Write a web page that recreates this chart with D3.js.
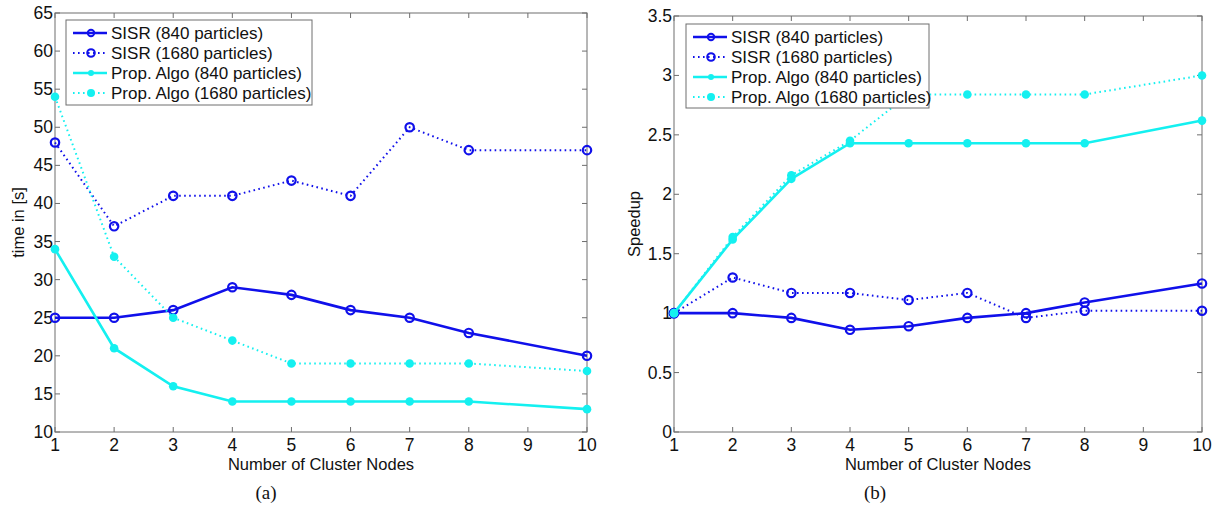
<!DOCTYPE html>
<html><head><meta charset="utf-8">
<script src="https://cdn.jsdelivr.net/npm/d3@7"></script>
<style>body{margin:0;background:#fff}svg{display:block}</style>
</head><body>
<svg id="c" width="1217" height="506"></svg>
<script>
const nodes = [1,2,3,4,5,6,7,8,10];
const xTicks = [1,2,3,4,5,6,7,8,9,10];
// (a) time in seconds
const timeSISR840 = [25,25,26,29,28,26,25,23,20];
const timeSISR1680 = [48,37,41,41,43,41,50,47,47];
const timeProp840 = [34,21,16,14,14,14,14,14,13];
const timeProp1680 = [54,33,25,22,19,19,19,19,18];
const timeTicks = [10,15,20,25,30,35,40,45,50,55,60,65];
// (b) speedup
const spSISR840 = [1,1,0.96,0.86,0.89,0.96,1,1.09,1.25];
const spSISR1680 = [1,1.3,1.17,1.17,1.11,1.17,0.96,1.02,1.02];
const spProp840 = [1,1.62,2.13,2.43,2.43,2.43,2.43,2.43,2.62];
const spProp1680 = [1,1.64,2.16,2.45,2.84,2.84,2.84,2.84,3.0];
const spTicks = [0,0.5,1,1.5,2,2.5,3,3.5];
const legendLabels = ["SISR (840 particles)","SISR (1680 particles)","Prop. Algo (840 particles)","Prop. Algo (1680 particles)"];

const BLUE = "#1010ea", CYAN = "#14f0f0", AX = "#6e6e6e";
const FONT = "Liberation Sans, Arial, Helvetica, sans-serif";
const svg = d3.select("#c");

function panel(cfg){
  const g = svg.append("g");
  const x = d3.scaleLinear().domain([1,10]).range([cfg.x0,cfg.x1]);
  const y = d3.scaleLinear().domain(cfg.yDomain).range([cfg.yb,cfg.yt]);
  g.append("rect").attr("x",cfg.x0).attr("y",cfg.yt).attr("width",cfg.x1-cfg.x0).attr("height",cfg.yb-cfg.yt)
   .attr("fill","none").attr("stroke",AX).attr("stroke-width",1);
  const T = 5;
  xTicks.forEach(t=>{
    g.append("line").attr("x1",x(t)).attr("x2",x(t)).attr("y1",cfg.yb).attr("y2",cfg.yb-T).attr("stroke",AX);
    g.append("line").attr("x1",x(t)).attr("x2",x(t)).attr("y1",cfg.yt).attr("y2",cfg.yt+T).attr("stroke",AX);
    g.append("text").attr("x",x(t)).attr("y",cfg.yb+19).attr("text-anchor","middle")
     .attr("font-family",FONT).attr("font-size",17.5).attr("fill","#111").text(t);
  });
  cfg.yTicks.forEach(t=>{
    g.append("line").attr("x1",cfg.x0).attr("x2",cfg.x0+T).attr("y1",y(t)).attr("y2",y(t)).attr("stroke",AX);
    g.append("line").attr("x1",cfg.x1).attr("x2",cfg.x1-T).attr("y1",y(t)).attr("y2",y(t)).attr("stroke",AX);
    g.append("text").attr("x",cfg.x0-2).attr("y",y(t)+6).attr("text-anchor","end")
     .attr("font-family",FONT).attr("font-size",17.5).attr("fill","#111").text(t);
  });
  g.append("text").attr("x",(cfg.x0+cfg.x1)/2).attr("y",cfg.yb+38).attr("text-anchor","middle")
   .attr("font-family",FONT).attr("font-size",16.5).attr("fill","#111").text("Number of Cluster Nodes");
  g.append("text").attr("transform",`translate(${cfg.ylx},${(cfg.yt+cfg.yb)/2}) rotate(-90)`).attr("text-anchor","middle")
   .attr("font-family",FONT).attr("font-size",16.5).attr("fill","#111").text(cfg.ylabel);
  g.append("text").attr("x",(cfg.x0+cfg.x1)/2-55+(cfg.capDx||0)).attr("y",499).attr("text-anchor","middle")
   .attr("font-family","Liberation Serif, Times New Roman, serif").attr("font-size",19).attr("fill","#111").text(cfg.caption);

  const series = [
    {v:cfg.data[0], c:BLUE, dot:false, open:true},
    {v:cfg.data[1], c:BLUE, dot:true, open:true},
    {v:cfg.data[2], c:CYAN, dot:false, open:false},
    {v:cfg.data[3], c:CYAN, dot:true, open:false}
  ];
  const line = d3.line().x((d,i)=>x(nodes[i])).y(d=>y(d));
  series.forEach(s=>{
    g.append("path").attr("d",line(s.v)).attr("fill","none").attr("stroke",s.c)
     .attr("stroke-width",s.dot?2:2.6).attr("stroke-dasharray",s.dot?"1.6,3.4":null);
    s.v.forEach((d,i)=>{
      if(s.open) g.append("circle").attr("cx",x(nodes[i])).attr("cy",y(d)).attr("r",4.2)
        .attr("fill","none").attr("stroke",s.c).attr("stroke-width",2.2);
      else g.append("circle").attr("cx",x(nodes[i])).attr("cy",y(d)).attr("r",4.3).attr("fill",s.c);
    });
  });
  const L = cfg.leg;
  g.append("rect").attr("x",L.x).attr("y",L.y).attr("width",L.w).attr("height",L.h)
   .attr("fill","#fff").attr("stroke",AX).attr("stroke-width",1);
  series.forEach((s,i)=>{
    const yy = L.y+13+i*20;
    g.append("line").attr("x1",L.x+7).attr("x2",L.x+41).attr("y1",yy).attr("y2",yy).attr("stroke",s.c)
     .attr("stroke-width",s.dot?2:2.6).attr("stroke-dasharray",s.dot?"1.6,3.4":null);
    if(s.open) g.append("circle").attr("cx",L.x+25).attr("cy",yy).attr("r",s.dot?3.8:3.2).attr("fill","none").attr("stroke",s.c).attr("stroke-width",2);
    else g.append("circle").attr("cx",L.x+25).attr("cy",yy).attr("r",s.dot?4:3).attr("fill",s.c);
    g.append("text").attr("x",L.x+45).attr("y",yy+6).attr("font-family",FONT).attr("font-size",17)
     .attr("fill","#111").text(legendLabels[i]);
  });
}

panel({x0:55,x1:587,yt:13,yb:432,yDomain:[10,65],yTicks:timeTicks,ylabel:"time in [s]",ylx:24,caption:"(a)",
  data:[timeSISR840,timeSISR1680,timeProp840,timeProp1680], leg:{x:66,y:20,w:246,h:85}});
panel({x0:674,x1:1202,yt:16,yb:432,yDomain:[0,3.5],yTicks:spTicks,ylabel:"Speedup",ylx:640,caption:"(b)",capDx:-8,
  data:[spSISR840,spSISR1680,spProp840,spProp1680], leg:{x:686,y:24,w:243,h:84}});
</script>
</body></html>
